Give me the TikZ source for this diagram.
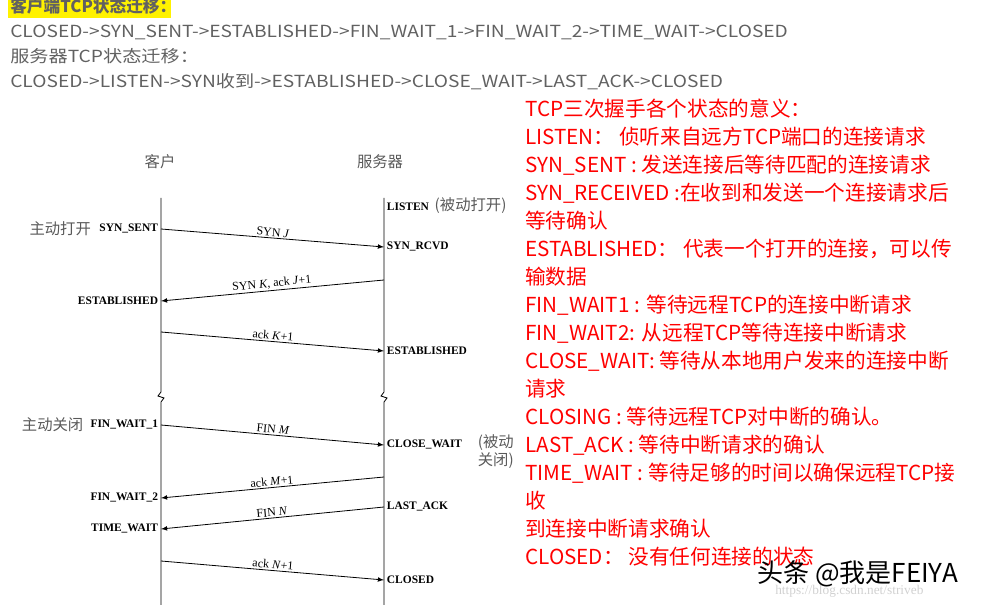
\documentclass[tikz,border=0pt]{standalone}
\usepackage{fontspec}
\setmainfont{Liberation Serif}
\newfontfamily\cjk{Noto Sans CJK SC}
\usetikzlibrary{positioning}
\begin{document}
\begin{tikzpicture}[
    x=0.75pt, y=-0.75pt,
    head/.style={anchor=base west, inner sep=0, font=\cjk\fontsize{12.5}{14}\selectfont\addfontfeatures{FakeStretch=1.15}, text=black!62},
    note/.style={anchor=base west, inner sep=0, font=\cjk\fontsize{15.5}{17}\selectfont, text=red},
    state/.style={inner sep=2pt, font=\bfseries\fontsize{8.6}{10}\selectfont},
    who/.style={inner sep=0, font=\cjk\fontsize{11.5}{13}\selectfont, text=black!65},
    msg/.style={->, >=latex, semithick},
    lbl/.style={midway, above, sloped, inner sep=1pt, font=\fontsize{9}{10}\selectfont}
]
\useasboundingbox (0,0) rectangle (986,605);

% state sequences at the top
\fill[yellow] (8,0) rectangle (171,18);
\node[head, font=\cjk\bfseries\fontsize{12.5}{14}\selectfont] (h1) at (10,13) {客户端TCP状态迁移：};
\node[head] (h2) at (10,38) {CLOSED->SYN\_SENT->ESTABLISHED->FIN\_WAIT\_1->FIN\_WAIT\_2->TIME\_WAIT->CLOSED};
\node[head] (h3) at (10,63) {服务器TCP状态迁移：};
\node[head] (h4) at (10,88) {CLOSED->LISTEN->SYN收到->ESTABLISHED->CLOSE\_WAIT->LAST\_ACK->CLOSED};

% lifelines
\node[who] (client) at (160,162) {客户};
\node[who] (server) at (380,162) {服务器};
\draw[semithick] (161,198) -- (161,392) -- ++(-3,4) -- ++(6,2) -- ++(-3,4) -- (161,605);
\draw[semithick] (384,198) -- (384,392) -- ++(-3,4) -- ++(6,2) -- ++(-3,4) -- (384,605);

% client states
\node[state, anchor=east] (synsent) at (161,229) {SYN\_SENT};
\node[state, anchor=east] (estc) at (161,301) {ESTABLISHED};
\node[state, anchor=east] (fw1) at (161,425) {FIN\_WAIT\_1};
\node[state, anchor=east] (fw2) at (161,498) {FIN\_WAIT\_2};
\node[state, anchor=east] (tw) at (161,529) {TIME\_WAIT};
\node[who, left=4pt of synsent] (aopen) {主动打开};
\node[who, left=3pt of fw1] (aclose) {主动关闭};

% server states
\node[state, anchor=west] (listen) at (384,206) {LISTEN \ {\cjk\mdseries\fontsize{11.5}{13}\selectfont\color{black!65}(被动打开)}};
\node[state, anchor=west] (rcvd) at (384,247) {SYN\_RCVD};
\node[state, anchor=west] (ests) at (384,351) {ESTABLISHED};
\node[state, anchor=west] (cw) at (384,445) {CLOSE\_WAIT};
\node[who, anchor=north east, align=right] (pclose) at (514,434) {(被动\\[1pt]关闭)};
\node[state, anchor=west] (lack) at (384,507) {LAST\_ACK};
\node[state, anchor=west] (closed) at (384,580) {CLOSED};

% segments
\draw[msg] (synsent.east) -- node[lbl] {SYN \textit{J}} (rcvd.west);
\draw[msg] (384,280) -- node[lbl] {SYN \textit{K}, ack \textit{J}+1} (estc.east);
\draw[msg] (161,332) -- node[lbl] {ack \textit{K}+1} (ests.west);
\draw[msg] (fw1.east) -- node[lbl] {FIN \textit{M}} (cw.west);
\draw[msg] (384,477) -- node[lbl] {ack \textit{M}+1} (fw2.east);
\draw[msg] (lack.west) -- node[lbl] {FIN \textit{N}} (tw.east);
\draw[msg] (161,561) -- node[lbl] {ack \textit{N}+1} (closed.west);

% meaning of each state
\foreach \t [count=\i from 0] in {
    TCP三次握手各个状态的意义：,
    LISTEN： 侦听来自远方TCP端口的连接请求,
    SYN\_SENT : 发送连接后等待匹配的连接请求,
    SYN\_RECEIVED :在收到和发送一个连接请求后,
    等待确认,
    ESTABLISHED： 代表一个打开的连接，可以传,
    输数据,
    FIN\_WAIT1 : 等待远程TCP的连接中断请求,
    FIN\_WAIT2: 从远程TCP等待连接中断请求,
    CLOSE\_WAIT: 等待从本地用户发来的连接中断,
    请求,
    CLOSING : 等待远程TCP对中断的确认。,
    LAST\_ACK : 等待中断请求的确认,
    TIME\_WAIT : 等待足够的时间以确保远程TCP接,
    收,
    到连接中断请求确认,
    CLOSED： 没有任何连接的状态}
  \node[note] (n\i) at (525,117+28*\i) {\t};

% watermark
\node[inner sep=0, anchor=base west, font=\fontsize{10}{11}\selectfont, text=black!18] (url) at (775,595) {https://blog.csdn.net/striveb};
\node[inner sep=0, anchor=base west, font=\cjk\fontsize{19.5}{21}\selectfont] (mark) at (757,583) {头条 @我是FEIYA};
\end{tikzpicture}
\end{document}
